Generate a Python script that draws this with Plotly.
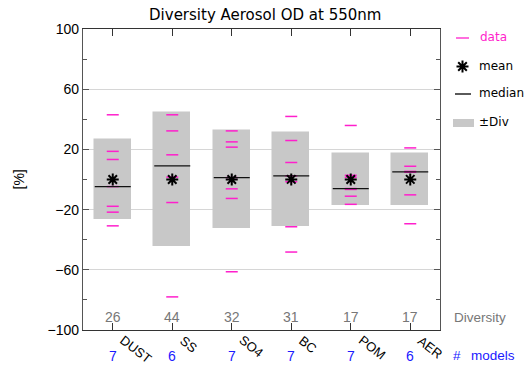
import numpy as np
import plotly.graph_objects as go

# Aerosol components and their model diversity (percent)
categories = ["DUST", "SS", "SO4", "BC", "POM", "AER"]
diversity = [26, 44, 32, 31, 17, 17]
n_models = [7, 6, 7, 7, 7, 6]

# Per-model deviation from the multi-model mean, in percent
dust = [43.0, 18.7, 13.3, -4.7, -17.8, -21.7, -30.8]
ss = [43.0, 32.3, 16.4, 1.6, -15.3, -78.0]
so4 = [32.3, 25.0, 21.5, 1.3, -6.2, -12.6, -61.3]
bc = [41.9, 25.9, 11.3, 2.4, -1.5, -31.4, -48.2]
pom = [35.9, 2.8, 1.5, -6.0, -6.6, -11.1, -16.5]
aer = [21.0, 8.8, 5.4, 4.8, -10.2, -29.4]
model_values = [dust, ss, so4, bc, pom, aer]

MAGENTA = "#ff1fcc"
BLUE = "#1a1aff"
GREY_TXT = "#777777"
BOX = "#c8c8c8"
BOX_W = 0.6
# plotly's line-ew symbol spans 1.4 x marker size
EW = 1.4

xpos = list(range(1, len(categories) + 1))
means = [float(np.mean(v)) for v in model_values]
medians = [float(np.median(v)) for v in model_values]

fig = go.Figure()

# +/- diversity boxes
fig.add_trace(go.Bar(
    x=xpos, y=[2 * d for d in diversity], base=[-d for d in diversity],
    width=BOX_W, marker=dict(color=BOX, line=dict(color=BOX, width=1.5)),
    hoverinfo="skip", showlegend=False,
))

# individual model values
dx, dy = [], []
for x, vals in zip(xpos, model_values):
    dx += [x] * len(vals)
    dy += vals
fig.add_trace(go.Scatter(
    x=dx, y=dy, mode="markers",
    marker=dict(symbol="line-ew", size=12 / EW, color=MAGENTA,
                line=dict(color=MAGENTA, width=1.5)),
    showlegend=False,
))

# medians
fig.add_trace(go.Scatter(
    x=xpos, y=medians, mode="markers",
    marker=dict(symbol="line-ew", size=36 / EW, color="#111111",
                line=dict(color="#111111", width=1.3)),
    showlegend=False,
))

# means
fig.add_trace(go.Scatter(
    x=xpos, y=means, mode="markers",
    marker=dict(symbol="asterisk-open", size=10, color="black",
                line=dict(color="black", width=2)),
    showlegend=False,
))

annotations = []
for x, cat, d, n in zip(xpos, categories, diversity, n_models):
    annotations.append(dict(x=x, y=-91.5, xref="x", yref="y", text=str(d),
                            showarrow=False, font=dict(size=14, color=GREY_TXT,
                            family="Liberation Sans, Arial"), yanchor="middle"))
    annotations.append(dict(x=x, y=0, xref="x", yref="paper", text=cat,
                            showarrow=False, textangle=38, xanchor="left", yanchor="top",
                            xshift=2, yshift=0,
                            font=dict(size=13, color="black", family="Liberation Sans, Arial")))
    annotations.append(dict(x=x, y=0, xref="x", yref="paper", text=str(n),
                            showarrow=False, yanchor="middle", yshift=-26,
                            font=dict(size=14, color=BLUE, family="Liberation Sans, Arial")))

# right-hand side captions
PW, PH, L, T = 357, 301, 83, 29


def px(xp):
    return (xp - L) / PW


def py(yp):
    return (T + PH - yp) / PH


annotations += [
    dict(x=px(452), y=py(317), xref="paper", yref="paper", text="Diversity", showarrow=False,
         xanchor="left", yanchor="middle", font=dict(size=13.5, color=GREY_TXT, family="Liberation Sans, Arial")),
    dict(x=px(451), y=py(356), xref="paper", yref="paper", text="#", showarrow=False,
         xanchor="left", yanchor="middle", font=dict(size=13.5, color=BLUE, family="Liberation Sans, Arial")),
    dict(x=px(469), y=py(356), xref="paper", yref="paper", text="models", showarrow=False,
         xanchor="left", yanchor="middle", font=dict(size=13.5, color=BLUE, family="Liberation Sans, Arial")),
    dict(x=px(18), y=0.5, xref="paper", yref="paper", text="[%]", showarrow=False,
         textangle=-90, xanchor="center", yanchor="middle",
         font=dict(size=14, color="black", family="Liberation Sans, Arial")),
]

# legend
LEG_FONT = dict(size=12, family="DejaVu Sans")
annotations += [
    dict(x=px(478), y=py(37), xref="paper", yref="paper", text="data", showarrow=False,
         xanchor="left", yanchor="middle", font=dict(color=MAGENTA, **LEG_FONT)),
    dict(x=px(477), y=py(66), xref="paper", yref="paper", text="mean", showarrow=False,
         xanchor="left", yanchor="middle", font=dict(color="black", **LEG_FONT)),
    dict(x=px(477), y=py(93), xref="paper", yref="paper", text="median", showarrow=False,
         xanchor="left", yanchor="middle", font=dict(color="black", **LEG_FONT)),
    dict(x=px(477), y=py(122), xref="paper", yref="paper", text="±Div", showarrow=False,
         xanchor="left", yanchor="middle", font=dict(color="black", **LEG_FONT)),
]

shapes = [
    dict(type="line", xref="paper", yref="paper", x0=px(456), x1=px(469), y0=py(38), y1=py(38),
         line=dict(color=MAGENTA, width=1.3)),
    dict(type="line", xref="paper", yref="paper", x0=px(455), x1=px(471), y0=py(94), y1=py(94),
         line=dict(color="black", width=1.3)),
    dict(type="rect", xref="paper", yref="paper", x0=px(453), x1=px(474), y0=py(127), y1=py(119),
         fillcolor=BOX, line=dict(width=0)),
    dict(type="path", xref="paper", yref="paper", xsizemode="pixel", ysizemode="pixel",
         xanchor=px(462.5), yanchor=py(66.5),
         path="M-6,0 L6,0 M0,-6 L0,6 M-4.3,-4.3 L4.3,4.3 M-4.3,4.3 L4.3,-4.3",
         line=dict(color="black", width=2)),
]

fig.update_layout(
    width=529, height=368,
    margin=dict(l=L, r=529 - L - PW, t=T, b=368 - T - PH),
    paper_bgcolor="white", plot_bgcolor="white",
    title=dict(text="Diversity Aerosol OD at 550nm", x=px(262), xanchor="center",
               y=1 - 15 / 368, yanchor="middle", font=dict(size=15, family="DejaVu Sans", color="black")),
    showlegend=False,
    bargap=0,
    annotations=annotations,
    shapes=shapes,
    xaxis=dict(range=[0.5, 6.5], tickvals=xpos, showticklabels=False, ticks="inside",
               ticklen=7, tickcolor="#333333", showgrid=False, zeroline=False,
               showline=True, linecolor="#333333", linewidth=1.2, mirror="ticks"),
    yaxis=dict(range=[-100, 100], tickvals=[-100, -60, -20, 20, 60, 100],
               ticks="inside", ticklen=6, tickcolor="#555555", showgrid=True,
               gridcolor="#d6d6d6", gridwidth=1.2, zeroline=False, showline=True,
               linecolor="#555555", linewidth=1.2, mirror="ticks",
               tickfont=dict(size=14, family="Liberation Sans, Arial", color="black"),
               minor=dict(tickvals=[-80, -40, 0, 40, 80], ticks="inside", ticklen=4,
                          tickcolor="#555555", showgrid=False)),
)

fig.write_html("out.html")
